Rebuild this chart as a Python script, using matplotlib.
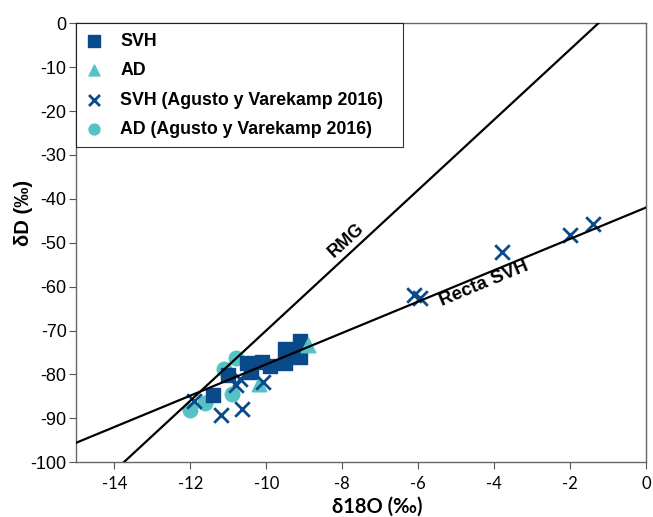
import numpy as np
import matplotlib.pyplot as plt

# valores
svh_d18o = [-11.4, -11.0, -10.5, -10.4, -10.1, -9.9, -9.5, -9.5, -9.3, -9.1, -9.1]
svh_dD = [-84.6, -80.2, -77.5, -79.5, -77.1, -78.0, -74.3, -77.3, -75.5, -72.5, -76.0]

ad_d18o = [-8.9, -10.2]
ad_dD = [-73.3, -82.1]

svh_av_d18o = [-11.9, -11.2, -10.65, -10.8, -10.7, -10.08, -6.1, -5.95, -3.8, -2.0, -1.4]
svh_av_dD = [-86.0, -89.2, -87.8, -82.5, -81.0, -81.8, -62.0, -62.5, -52.2, -48.3, -45.8]

ad_av_d18o = [-12.0, -11.6, -11.1, -10.8, -10.9]
ad_av_dD = [-88.0, -86.5, -78.7, -76.2, -84.5]

# rectas: RMG (8x + 10) y recta SVH
rmg_slope, rmg_int = 8.0, 10.0
svh_slope, svh_int = 3.57, -42.0

dark = "#0a4a8a"
teal = "#55c3c6"

plt.rcParams['font.family'] = ['Liberation Sans', 'DejaVu Sans']
plt.rcParams['axes.unicode_minus'] = False

fig = plt.figure(figsize=(6.53, 5.17), dpi=100)
ax = fig.add_axes([0.117, 0.106, 0.872, 0.849])

xs = np.array([-15, 0])
ax.plot(xs, rmg_slope * xs + rmg_int, color='black', lw=1.6, zorder=5)
ax.plot(xs, svh_slope * xs + svh_int, color='black', lw=1.6, zorder=5)

ax.scatter(svh_d18o, svh_dD, marker='s', s=115, color=dark, label='SVH', zorder=3)
ax.scatter(ad_d18o, ad_dD, marker='^', s=110, color=teal, label='AD', zorder=3)
ax.scatter(svh_av_d18o, svh_av_dD, marker='x', s=110, color=dark, linewidths=2,
           label='SVH (Agusto y Varekamp 2016)', zorder=4)
ax.scatter(ad_av_d18o, ad_av_dD, marker='o', s=110, color=teal,
           label='AD (Agusto y Varekamp 2016)', zorder=2)

ax.text(-7.9, -49.5, 'RMG', rotation=42.5, ha='center', va='center',
        fontsize=13, fontweight='bold', zorder=6)
ax.text(-4.25, -59.3, 'Recta SVH', rotation=22.5, ha='center', va='center',
        fontsize=13.5, fontweight='bold', zorder=6)

ax.set_xlim(-15, 0)
ax.set_ylim(-100, 0)
ax.set_xticks(range(-14, 1, 2))
ax.set_yticks(range(-100, 1, 10))
ax.tick_params(length=5, color='#555555')
ax.tick_params(axis='y', labelsize=13, pad=2)
ax.tick_params(axis='x', labelsize=12, pad=5)
for lab in ax.get_xticklabels():
    lab.set_family(['Lato', 'DejaVu Sans'])
for sp in ax.spines.values():
    sp.set_color('#666666')
    sp.set_linewidth(1.0)

ax.set_xlabel('δ18O (‰)', fontsize=14.5, fontweight='bold', family=['Lato', 'DejaVu Sans'],
              va='top')
ax.xaxis.set_label_coords(0.529, -0.078)
ax.set_ylabel('δD (‰)', fontsize=14.5, fontweight='bold')
ax.yaxis.set_label_coords(-0.077, 0.569)

leg = ax.legend(loc='upper left', bbox_to_anchor=(0, 1, 0.574, 0), mode='expand',
                borderaxespad=0, frameon=True, fancybox=False,
                prop={'weight': 'bold', 'size': 12.8}, handlelength=0.96, handletextpad=0.98,
                labelspacing=0.7, borderpad=0.53, scatterpoints=1, markerscale=0.75)
leg.get_frame().set_edgecolor('black')
leg.get_frame().set_linewidth(0.8)

fig.savefig('out.png', dpi=100)
